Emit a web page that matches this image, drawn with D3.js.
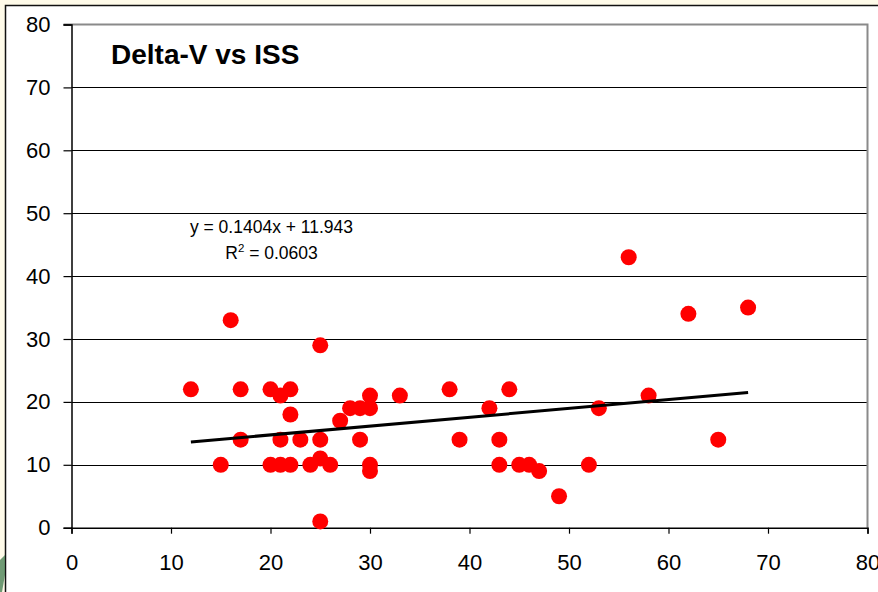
<!DOCTYPE html>
<html>
<head>
<meta charset="utf-8">
<script src="https://cdn.jsdelivr.net/npm/d3@7"></script>
<style>
  html, body { margin: 0; padding: 0; background: #fffbe9; }
  svg { display: block; }
  text { font-family: "Liberation Sans", Arial, sans-serif; }
</style>
</head>
<body>
<svg id="chart" width="878" height="592"></svg>
<script>
// Delta-V (x) against ISS (y), one entry per case
const deltaV = [12, 15, 16, 17, 17, 20, 20, 21, 21, 21, 22, 22, 22, 23, 24, 25, 25, 25, 25, 26,
                27, 28, 29, 29, 30, 30, 30, 30, 33, 38, 39, 42, 43, 43, 44, 45, 46, 47, 49, 52,
                53, 56, 58, 62, 65, 68];
const iss    = [22, 10, 33, 22, 14, 22, 10, 21, 14, 10, 22, 18, 10, 14, 10, 29, 14, 11, 1, 10,
                17, 19, 19, 14, 21, 19, 10, 9, 21, 22, 14, 19, 14, 10, 22, 10, 10, 9, 5, 10,
                19, 43, 21, 34, 14, 35];

// Linear trend fitted to the series
const trendSlope = 0.1404;
const trendIntercept = 11.943;
const rSquared = 0.0603;

const xTicks = [0, 10, 20, 30, 40, 50, 60, 70, 80];
const yTicks = [0, 10, 20, 30, 40, 50, 60, 70, 80];
const title = "Delta-V vs ISS";

const svg = d3.select("#chart");
const W = 878, H = 592;

// Frame: cream margin with dark border, white chart area
svg.append("rect").attr("x", 0).attr("y", 0).attr("width", W).attr("height", H).attr("fill", "#fffbe9");
svg.append("rect").attr("x", 5.5).attr("y", 5.5).attr("width", W).attr("height", H)
  .attr("fill", "#ffffff").attr("stroke", "#111").attr("stroke-width", 1.5);
// small green emblem fragment at the lower left edge
svg.append("path")
  .attr("d", "M0,560 L5,555 L5,575 L2,592 L0,592 Z")
  .attr("fill", "#3f7a4c").attr("opacity", 0.75);

const x = d3.scaleLinear().domain([0, 80]).range([71.5, 867.5]);
const y = d3.scaleLinear().domain([0, 80]).range([527.7, 24.5]);

// Horizontal gridlines
svg.append("g").selectAll("line")
  .data(yTicks.filter(v => v > 0 && v < 80))
  .join("line")
  .attr("x1", x(0)).attr("x2", x(80))
  .attr("y1", d => Math.round(y(d)) + 0.5).attr("y2", d => Math.round(y(d)) + 0.5)
  .attr("stroke", "#000").attr("stroke-width", 1);

// Plot area top and right border
svg.append("path")
  .attr("d", `M${x(0) - 8},${y(80)} H${x(80)} V${y(0)}`)
  .attr("fill", "none").attr("stroke", "#8a8a8a").attr("stroke-width", 2);

// Y axis
const yAxis = svg.append("g")
  .attr("transform", `translate(${x(0)},0)`)
  .call(d3.axisLeft(y).tickValues(yTicks).tickSize(8).tickPadding(13).tickFormat(d3.format("d")));
yAxis.select(".domain").attr("stroke", "#000").attr("stroke-width", 1.5);
yAxis.selectAll(".tick line").attr("stroke", "#000").attr("stroke-width", 1.2);
yAxis.selectAll(".tick text").attr("font-size", 22).attr("fill", "#000")
  .style("font-family", "'Liberation Sans', Arial, sans-serif");

// X axis
const xAxis = svg.append("g")
  .attr("transform", `translate(0,${y(0)})`)
  .call(d3.axisBottom(x).tickValues(xTicks).tickSize(6).tickPadding(21).tickFormat(d3.format("d")));
xAxis.select(".domain").attr("stroke", "#000").attr("stroke-width", 1.5);
xAxis.selectAll(".tick line").attr("stroke", "#000").attr("stroke-width", 1.2);
xAxis.selectAll(".tick text").attr("font-size", 22).attr("fill", "#000")
  .style("font-family", "'Liberation Sans', Arial, sans-serif");

// Data points
const points = deltaV.map((d, i) => ({ dv: d, iss: iss[i] }));
svg.append("g").selectAll("circle")
  .data(points)
  .join("circle")
  .attr("cx", d => x(d.dv))
  .attr("cy", d => y(d.iss))
  .attr("r", 8)
  .attr("fill", "#ff0000");

// Trend line across the observed Delta-V range
const [xMin, xMax] = d3.extent(deltaV);
svg.append("line")
  .attr("x1", x(xMin)).attr("y1", y(trendSlope * xMin + trendIntercept))
  .attr("x2", x(xMax)).attr("y2", y(trendSlope * xMax + trendIntercept))
  .attr("stroke", "#000").attr("stroke-width", 3);

// Trend equation and R²
svg.append("text")
  .attr("x", 271.5).attr("y", 233)
  .attr("text-anchor", "middle").attr("font-size", 17.5).attr("fill", "#000")
  .text(`y = ${trendSlope}x + ${trendIntercept}`);
const r2 = svg.append("text")
  .attr("x", 271.5).attr("y", 259)
  .attr("text-anchor", "middle").attr("font-size", 17.5).attr("fill", "#000");
r2.append("tspan").text("R");
r2.append("tspan").attr("dy", -7).attr("font-size", 11.5).text("2");
r2.append("tspan").attr("dy", 7).text(` = ${rSquared}`);

// Title
svg.append("text")
  .attr("x", 111).attr("y", 64)
  .attr("font-size", 28).attr("font-weight", "bold").attr("fill", "#000")
  .text(title);
</script>
</body>
</html>
